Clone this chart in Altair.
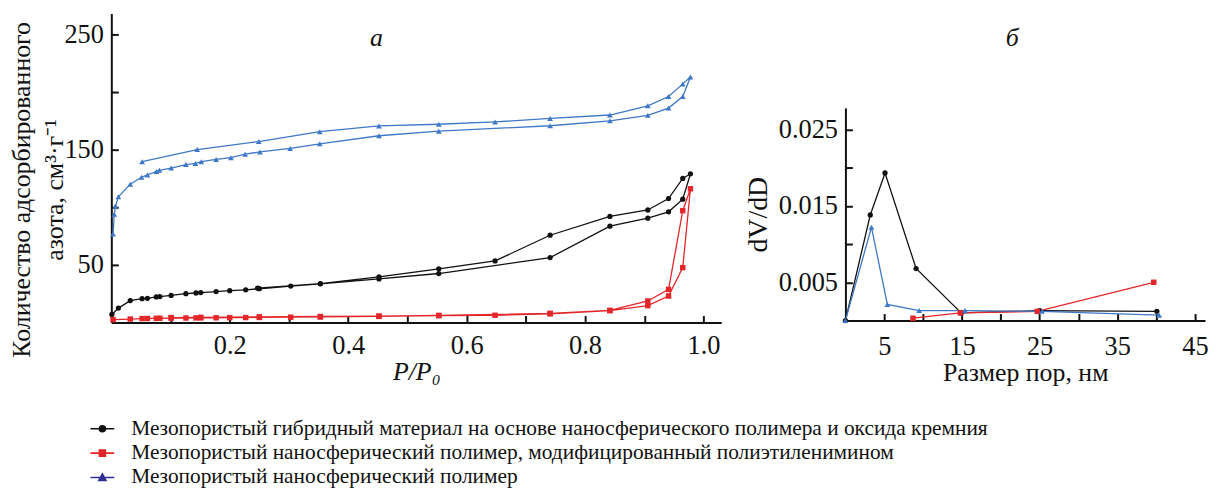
import altair as alt
import pandas as pd

S1 = "Мезопористый гибридный материал на основе наносферического полимера и оксида кремния"
S2 = "Мезопористый наносферический полимер, модифицированный полиэтиленимином"
S3 = "Мезопористый наносферический полимер"
SERIES = [S1, S2, S3]
PLOT_COLORS = ["#111111", "#e3262a", "#3f78c6"]
LEGEND_COLORS = ["#111111", "#e3262a", "#2e3192"]
MARKERS = ["circle", "square", "triangle-up"]

# Panel a: nitrogen sorption isotherms (adsorption branch, then desorption branch)
hyb_ads_p = [0.001, 0.012, 0.032, 0.052, 0.061, 0.076, 0.082, 0.101, 0.126, 0.143, 0.151, 0.177,
             0.2, 0.227, 0.25, 0.303, 0.353, 0.452, 0.553, 0.741, 0.842, 0.906, 0.941, 0.965, 0.978]
hyb_ads_v = [7, 12.5, 19, 20.7, 21, 22.2, 22.5, 23.5, 25, 25.6, 26, 26.8,
             27.6, 28.4, 29.3, 31.6, 33.6, 37.8, 42.5, 56.3, 83.6, 90.5, 96, 107, 129]
hyb_des_p = [0.965, 0.941, 0.906, 0.842, 0.741, 0.648, 0.553, 0.452, 0.353, 0.247]
hyb_des_v = [125, 107.5, 97.6, 92, 75.7, 53.4, 46.6, 39.6, 33.8, 29.8]

pei_ads_p = [0.003, 0.032, 0.052, 0.061, 0.076, 0.082, 0.101, 0.126, 0.143, 0.151, 0.177, 0.2,
             0.227, 0.25, 0.303, 0.353, 0.452, 0.553, 0.648, 0.741, 0.842, 0.906, 0.941, 0.965, 0.978]
pei_ads_v = [2.5, 3.0, 3.4, 3.5, 3.6, 3.7, 3.8, 3.9, 4.0, 4.0, 4.1, 4.2,
             4.3, 4.4, 4.6, 4.8, 5.3, 5.9, 6.3, 7.5, 10.3, 14.6, 23, 47.6, 116]
pei_des_p = [0.965, 0.941, 0.906, 0.842, 0.741, 0.553, 0.452, 0.353, 0.25, 0.151, 0.101]
pei_des_v = [97, 28.7, 18.7, 10.5, 8, 6.2, 5.6, 5.2, 4.9, 4.5, 4.3]

pol_ads_p = [0.003, 0.005, 0.007, 0.012, 0.032, 0.051, 0.061, 0.076, 0.081, 0.101, 0.126, 0.142,
             0.152, 0.177, 0.202, 0.226, 0.251, 0.302, 0.352, 0.452, 0.553, 0.741, 0.842, 0.906,
             0.941, 0.965, 0.978]
pol_ads_v = [76.7, 94, 101, 109, 120, 126, 128, 131, 132, 134, 137, 138,
             139.5, 141.5, 143, 146, 148, 151, 155, 162, 166, 170.7, 175, 179.7,
             186, 196, 213]
pol_des_p = [0.965, 0.941, 0.906, 0.842, 0.741, 0.648, 0.553, 0.452, 0.352, 0.249, 0.145, 0.052]
pol_des_v = [207, 196, 188, 180, 177, 174, 172, 170.5, 165.5, 157, 150, 139.5]

# Panel b: pore size distributions
hyb_d = [0, 3.2, 5.1, 9.1, 14.9, 25.0, 40.1]
hyb_dvdd = [0, 0.0138, 0.0193, 0.0068, 0.0010, 0.0013, 0.0012]
pei_d = [8.7, 14.8, 24.7, 39.7]
pei_dvdd = [0.0003, 0.0010, 0.0012, 0.0050]
pol_d = [0, 3.35, 5.4, 9.5, 15.4, 25.3, 40.4]
pol_dvdd = [0, 0.0122, 0.0021, 0.0013, 0.0013, 0.0012, 0.0007]

# Axis ticks
p_ticks = [round(0.1 * k, 1) for k in range(1, 11)]
v_ticks = [50, 100, 150, 200, 250]
d_ticks = [5, 10, 15, 20, 25, 30, 35, 40, 45]
dv_ticks = [0.005, 0.01, 0.015, 0.02, 0.025]

rows_a = []
for s, (ap, av, dp, dv) in zip(SERIES, [(hyb_ads_p, hyb_ads_v, hyb_des_p, hyb_des_v),
                                       (pei_ads_p, pei_ads_v, pei_des_p, pei_des_v),
                                       (pol_ads_p, pol_ads_v, pol_des_p, pol_des_v)]):
    for i, (p, v) in enumerate(zip(ap + dp, av + dv)):
        rows_a.append({"series": s, "idx": i, "p": p, "v": v})
df_a = pd.DataFrame(rows_a)

rows_b = []
for s, (d, y) in zip(SERIES, [(hyb_d, hyb_dvdd), (pei_d, pei_dvdd), (pol_d, pol_dvdd)]):
    for i, (dd, yy) in enumerate(zip(d, y)):
        rows_b.append({"series": s, "idx": i, "d": dd, "dv": yy})
df_b = pd.DataFrame(rows_b)

FONT = "Liberation Serif"
color_scale = alt.Scale(domain=SERIES, range=PLOT_COLORS)

axis_common = dict(grid=False, domainColor="#111", domainWidth=2, ticks=False,
                   labelFont=FONT, labelFontSize=26.5, labelColor="#111", titleFont=FONT,
                   titleColor="#111", titleFontWeight="normal")


def tick_axis(values, orient):
    # inward-pointing ticks: a label-less axis shifted into the plot
    return alt.Axis(values=values, orient=orient, domain=False, labels=False, ticks=True,
                    tickSize=7, tickWidth=2, tickColor="#111", grid=False, title=None, offset=-7)


def panel(df, xf, yf, xscale, yscale, xaxis, yaxis, xt, yt):
    base = alt.Chart(df)
    layers = [base.mark_line(strokeWidth=1.3).encode(
        x=alt.X(f"{xf}:Q", scale=xscale, axis=xaxis),
        y=alt.Y(f"{yf}:Q", scale=yscale, axis=yaxis),
        color=alt.Color("series:N", scale=color_scale, legend=None),
        order="idx:Q")]
    for s, m, sz in zip(SERIES, MARKERS, [28, 30, 34]):
        layers.append(base.transform_filter(alt.datum.series == s)
                      .mark_point(filled=True, shape=m, size=sz, opacity=1)
                      .encode(x=alt.X(f"{xf}:Q", scale=xscale, axis=None),
                              y=alt.Y(f"{yf}:Q", scale=yscale, axis=None),
                              color=alt.Color("series:N", scale=color_scale, legend=None)))
    layers.append(base.mark_point(opacity=0).encode(
        x=alt.X(f"{xf}:Q", scale=xscale, axis=tick_axis(xt, "bottom")),
        y=alt.Y(f"{yf}:Q", scale=yscale, axis=tick_axis(yt, "left"))))
    return layers


xs_a = alt.Scale(domain=[0, 1.03], nice=False)
ys_a = alt.Scale(domain=[0, 268], nice=False)
xa = alt.Axis(values=p_ticks, format=".1f", orient="bottom",
              labelExpr="(round(datum.value*10) % 2 == 0) ? datum.label : ''",
              title="P/P₀", titleFontStyle="italic", titleFontSize=26, labelPadding=10,
              titlePadding=0, **axis_common)
ya = alt.Axis(values=v_ticks, orient="left",
              labelExpr="(datum.value % 100 == 50) ? datum.label : ''",
              title=["Количество адсорбированного", "азота, см³·г⁻¹"],
              titleFontSize=26, titleLineHeight=33, titleY=177, titleX=-77,
              titleBaseline="bottom", labelPadding=8, **axis_common)

label_a = alt.Chart(pd.DataFrame({"t": ["а"]})).mark_text(
    font=FONT, fontSize=26, fontStyle="italic", color="#111", baseline="middle").encode(
    text="t:N", x=alt.value(267), y=alt.value(25))

left = alt.layer(*panel(df_a, "p", "v", xs_a, ys_a, xa, ya, p_ticks, v_ticks), label_a
                 ).resolve_axis(x="independent", y="independent").properties(width=614, height=311)

xs_b = alt.Scale(domain=[0, 46.3], nice=False)
ys_b = alt.Scale(domain=[0, 0.0278], nice=False)
xb = alt.Axis(values=d_ticks, orient="bottom",
              labelExpr="(datum.value % 10 == 5) ? datum.label : ''",
              title="Размер пор, нм", titleFontSize=26, labelPadding=13, titlePadding=0,
              **axis_common)
yb = alt.Axis(values=dv_ticks, format=".3f", orient="left",
              labelExpr="(round(datum.value*1000) % 10 == 5) ? datum.label : ''",
              title="dV/dD", titleFontSize=28, labelPadding=8, titlePadding=6, **axis_common)

right_plot = alt.layer(*panel(df_b, "d", "dv", xs_b, ys_b, xb, yb, d_ticks, dv_ticks)
                       ).resolve_axis(x="independent", y="independent").properties(width=362, height=214)

spacer = alt.Chart(pd.DataFrame({"t": ["б"]})).mark_text(
    font=FONT, fontSize=26, fontStyle="italic", color="#111", baseline="middle").encode(
    text="t:N", x=alt.value(168), y=alt.value(25)).properties(width=362, height=95)

right = alt.vconcat(spacer, right_plot, spacing=0)

legend_df = pd.DataFrame({"series": SERIES})
legend_chart = alt.Chart(legend_df).mark_point(clip=True, filled=True, opacity=1).encode(
    x=alt.value(-200), y=alt.value(-200),
    shape=alt.Shape("series:N", scale=alt.Scale(domain=SERIES, range=[
        "M-1,0L1,0M0.25,0A0.25,0.25,0,1,1,-0.25,0A0.25,0.25,0,1,1,0.25,0Z",
        "M-1,0L1,0M-0.25,-0.25L0.25,-0.25L0.25,0.25L-0.25,0.25Z",
        "M-1,0L1,0M0,-0.3L0.3,0.24L-0.3,0.24Z"]),
        legend=alt.Legend(title=None, orient="none", legendX=-22, legendY=30,
                          symbolSize=576, symbolStrokeWidth=1.6, symbolOpacity=1,
                          labelFont=FONT, labelFontSize=21.5, labelColor="#111",
                          labelLimit=2000, labelOffset=16, rowPadding=0.5,
                          direction="vertical")),
    fill=alt.Fill("series:N", scale=alt.Scale(domain=SERIES, range=LEGEND_COLORS), legend=None),
    stroke=alt.Stroke("series:N", scale=alt.Scale(domain=SERIES, range=LEGEND_COLORS), legend=None),
).properties(width=1, height=1)

top = alt.hconcat(left, right, spacing=23)

chart = alt.vconcat(top, legend_chart, spacing=0).properties(
    padding={"left": 0, "top": 4, "right": 0, "bottom": 0}
).resolve_scale(shape="independent", fill="independent", stroke="independent"
).configure_view(stroke=None, strokeWidth=0)

chart.save("out.html", embed_options={"renderer": "svg", "actions": False})
